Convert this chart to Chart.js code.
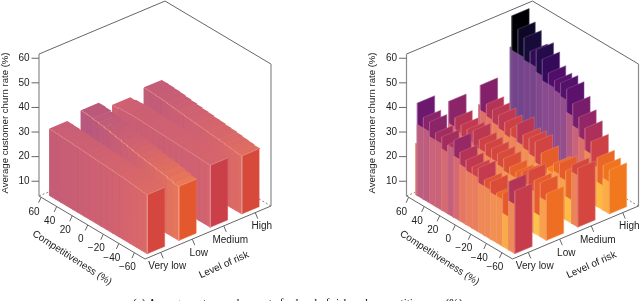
<!DOCTYPE html>
<html><head><meta charset="utf-8">
<style>html,body{margin:0;padding:0;background:#fff}canvas{display:block}</style>
<script src="https://cdn.jsdelivr.net/npm/chart.js@4"></script>
</head><body>
<canvas id="c" width="640" height="301"></canvas>
<script>
const riskLevels = ['Very low','Low','Medium','High'];
const competitivenessTicks = [60,40,20,0,-20,-40,-60];
const churnTicks = [10,20,30,40,50,60];

const leftVeryLow = [31.1,31,30.8,30.7,30.5,30.4,30.2,30,29.8,29.7,29.5,29.3,29.1,28.9,28.6,28.3,28];
const leftLow     = [33.2,33,32.6,32.2,31.8,31.3,30.8,30.3,29.8,29.3,28.8,28.4,28,27.6,27.2,26.6,26];
const leftMedium  = [30,30.4,30.5,30.6,30.5,30.4,30.3,30.2,30.1,30,29.9,29.8,29.7,29.6,29.5,29.3,29.2];
const leftHigh    = [31.7,31.6,31.4,31.2,30.9,30.6,30.3,30,29.8,29.5,29.3,29,28.8,28.5,28.2,27.9,27.6];

const rightVeryLow = [41.7,37.3,37,34,33.8,32,35.4,32,30.3,29,30,26.6,27.3,24.2,25.7,31.9,29.6];
const rightLow     = [37,31.8,30.3,30,31,28.8,28.4,28,27.5,27,25,24.5,26,27.8,25.5,26,23];
const rightMedium  = [38.2,32,31,30.4,29,28,31.2,28.2,28.4,28.4,25.3,20.7,24,25.6,24,27.8,28];
const rightHigh    = [61,57,55,51,53,50.7,46.6,45,45.5,44.5,40,36,33,29,24,22.3,21.8];

const rightVeryLowBehind = [25,33,33,31,31,29,32,29,27,26,26,24,24,23,23,17.5,24];
const rightLowBehind     = [25,28,27,26,26,25,25,24,24,23,22,22,22,22,21,12.4,20];
const rightMediumBehind  = [30,28,27,26,25,24,25,24,23,22,20,18,20,21,20,13.5,25];
const rightHighBehind    = [48,47,47,46,46,44,42,42,41,40,35,31,28,24,20,14,17];

const colourStops = [[61,[0,0,4]],[55,[22,11,57]],[49,[66,10,104]],[42,[106,23,110]],[36,[147,38,103]],[30,[196,58,78]],[28,[212,70,62]],[26,[228,88,46]],[20.5,[246,130,25]],[14,[252,165,10]],[8,[246,215,70]]];

function ramp(z){
  if(z>=colourStops[0][0]) return colourStops[0][1];
  for(let i=1;i<colourStops.length;i++){
    const [z1,c1]=colourStops[i],[z0,c0]=colourStops[i-1];
    if(z>=z1){const t=(z0-z)/(z0-z1);return c0.map((a,k)=>a+(c1[k]-a)*t);}
  }
  return colourStops[colourStops.length-1][1];
}
function css(c,mix){return 'rgb('+c.map(a=>Math.round(a+(255-a)*mix)).join(',')+')';}

const BASE=4, ZPX=2.46;
function proj(off,u,v,z){
  return {x:off+39+106*u+126*v, y:196+63*u-53*v-(z-BASE)*ZPX};
}
const compU=c=>0.02+(60-c)/120*0.88;
const rowV=k=>0.125+0.25*k;

const datasets=[]; let seq=0;
function poly(pts,fillCol,lineCol,w,dash){
  seq++;
  datasets.push({type:'scatter',showLine:true,data:pts,pointRadius:0,pointHoverRadius:0,
    borderColor:lineCol,borderWidth:w,borderDash:dash||[],backgroundColor:fillCol||'transparent',
    fill:fillCol?'shape':false,tension:0,clip:false,order:-seq});
}
function frame(off){
  const P=(u,v,z)=>proj(off,u,v,z), T=61.7;
  const dash=[2,2];
  poly([P(0,0,BASE),P(0,1,BASE)],null,'#555',0.7,dash);
  poly([P(1,1,BASE),P(0,1,BASE)],null,'#555',0.7,dash);
  poly([P(0,0,T),P(0,1,T),P(1,1,T)],null,'#666',1);
}
function frameFront(off){
  const P=(u,v,z)=>proj(off,u,v,z), T=61.7;
  poly([P(0,0,BASE),P(0,0,T)],null,'#8a8a8a',1.2);
  poly([P(1,1,BASE),P(1,1,T)],null,'#8a8a8a',1.2);
  poly([P(0,0,BASE),P(1,0,BASE),P(1,1,BASE)],null,'#666',1);
  churnTicks.forEach(z=>{const a=P(0,0,z);poly([a,{x:a.x-7.5,y:a.y}],null,'#666',1);});
  competitivenessTicks.forEach(c=>{const a=P(compU(c),0,BASE);poly([a,{x:a.x-2.5,y:a.y+5.5}],null,'#666',1);});
  riskLevels.forEach((r,k)=>{const a=P(1,rowV(k),BASE);poly([a,{x:a.x+2.5,y:a.y+6}],null,'#666',1);});
}
const U0=0.04,US=0.0541,US2=0.0575,VH=0.069;
function barsSmooth(off,rows){
  for(let k=rows.length-1;k>=0;k--){
    const v0=rowV(k)-VH-0.004,v1=rowV(k)+VH-0.004;
    const P=(u,v,h)=>proj(off,u,v,h);
    const row=rows[k], n=row.length;
    row.forEach((z,i)=>{
      const u0=U0+US*i,u1=u0+US,c=ramp(z),sc=ramp(z+0.5);
      const f1=css(sc,.2),f2=css(c,.2);
      poly([P(u0,v0,z),P(u1,v0,z),P(u1,v1,z),P(u0,v1,z),P(u0,v0,z)],f2,f2,1.2);
      poly([P(u0,v0,BASE),P(u1,v0,BASE),P(u1,v0,z),P(u0,v0,z),P(u0,v0,BASE)],f1,f1,.8);
    });
    const last=row[n-1],ue=U0+US*n;
    poly([P(ue,v0,BASE),P(ue,v1,BASE),P(ue,v1,last),P(ue,v0,last),P(ue,v0,BASE)],css(ramp(last),0),css(ramp(last),.1),.5);
    const edge=[];
    row.forEach((z,i)=>{edge.push(P(U0+US*i,v0,z));edge.push(P(U0+US*(i+1),v0,z));});
    edge.push(P(ue,v1,last));
    poly(edge,null,css(ramp(last),.42),.7);
    poly([P(ue,v0,last),P(ue,v0,BASE)],null,css(ramp(last),.42),.7);
  }
}
function barsTiled(off,rows,behind){
  for(let k=rows.length-1;k>=0;k--){
    const v0=rowV(k)-VH-0.004,v1=rowV(k)+VH-0.004;
    const P=(u,v,h)=>proj(off,u,v,h);
    rows[k].forEach((z,i)=>{
      const u1=U0+US2*i,u0=i===0?U0-0.015:u1-US2,s=behind[k][i];
      const c=ramp(z),sc=ramp(s);
      poly([P(u0,v0,BASE),P(u1,v0,BASE),P(u1,v0,s),P(u0,v0,s),P(u0,v0,BASE)],css(sc,.22),css(sc,.3),.5);
      poly([P(u1,v0,BASE),P(u1,v1,BASE),P(u1,v1,z),P(u1,v0,z),P(u1,v0,BASE)],css(c,0),css(c,.28),.5);
    });
  }
}
frame(0); barsSmooth(0,[leftVeryLow,leftLow,leftMedium,leftHigh]); frameFront(0);
frame(367.5); barsTiled(367.5,[rightVeryLow,rightLow,rightMedium,rightHigh],[rightVeryLowBehind,rightLowBehind,rightMediumBehind,rightHighBehind]); frameFront(367.5);

const SANS='"Liberation Sans", Arial, sans-serif';
const labels={id:'labels',afterDraw(chart){
  const {ctx,scales:{x,y}}=chart;
  const text=(s,px,py,rot,align,font,col)=>{
    ctx.save();ctx.translate(x.getPixelForValue(px),y.getPixelForValue(py));ctx.rotate(rot||0);
    ctx.textAlign=align||'center';ctx.textBaseline='middle';ctx.font=font||('10px '+SANS);ctx.fillStyle=col||'#222';
    ctx.fillText(s,0,0);ctx.restore();
  };
  [0,367.5].forEach(off=>{
    const P=(u,v,z)=>proj(off,u,v,z);
    churnTicks.forEach(z=>{const a=P(0,0,z);text(String(z),a.x-9.5,a.y,0,'right');});
    competitivenessTicks.forEach(c=>{const a=P(compU(c),0,BASE);text(String(c).replace('-','\u2212'),a.x-7,a.y+14.5);});
    riskLevels.forEach((r,k)=>{const a=P(1,rowV(k),BASE);text(r,a.x+6.5,a.y+14);});
    text('Average customer churn rate (%)',off+5,123,-Math.PI/2,'center','9.6px '+SANS);
    text('Competitiveness (%)',off+72,258,33*Math.PI/180);
    text('Level of risk',off+224,265,-24*Math.PI/180);
  });
  ctx.save();ctx.font='11.2px "Liberation Serif", serif';ctx.fillStyle='#000';ctx.textAlign='left';ctx.textBaseline='alphabetic';
  ctx.fillText('(a) Average customer churn rate for level of risk and competitiveness (%)',x.getPixelForValue(133),y.getPixelForValue(306));
  ctx.restore();
}};

new Chart(document.getElementById('c'),{
  type:'scatter',
  data:{datasets},
  options:{responsive:false,animation:false,devicePixelRatio:1,
    layout:{padding:0},
    plugins:{legend:{display:false},tooltip:{enabled:false}},
    events:[],
    scales:{
      x:{type:'linear',min:0,max:640,display:false},
      y:{type:'linear',min:0,max:301,reverse:true,display:false}
    }},
  plugins:[labels]
});
</script>
</body></html>
